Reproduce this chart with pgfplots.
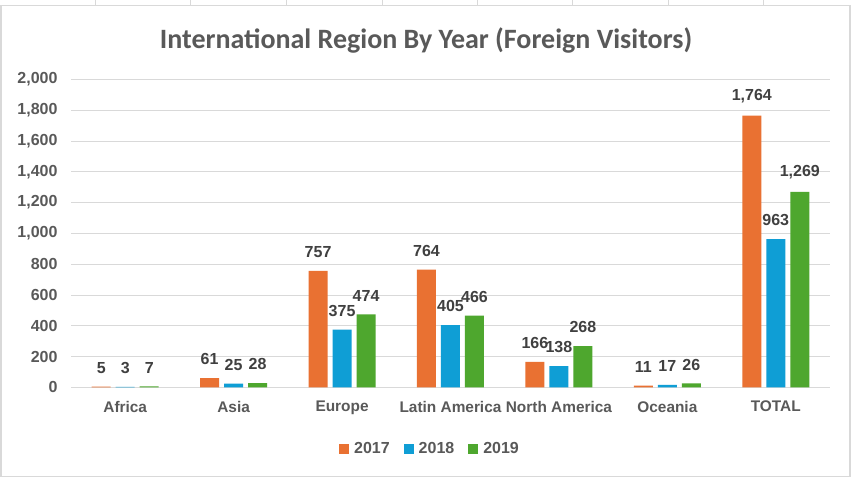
\documentclass[border=0pt]{standalone}
\usepackage{pgfplots}
\pgfplotsset{compat=1.18}
\usepackage{fontspec}
\setmainfont{Liberation Sans}
\newfontfamily\titlefont{Carlito}
\definecolor{c17}{HTML}{E97132}
\definecolor{c18}{HTML}{0F9ED5}
\definecolor{c19}{HTML}{4EA72E}
\definecolor{txt}{HTML}{595959}
\definecolor{lbl}{HTML}{404040}
\definecolor{gridc}{HTML}{D9D9D9}
\begin{document}
\begin{tikzpicture}[x=1pt,y=1pt]
\fill[white] (0,0) rectangle (852,477);
% spreadsheet cell lines above the chart
\foreach \xx in {95,190,286,382,477,572,668,763}
  \draw[gridc,line width=0.8pt] (\xx,472) -- (\xx,477);
\draw[gridc,line width=1.2pt] (1,1) rectangle (850,472);
\node[font=\titlefont\bfseries\fontsize{28}{28}\selectfont,text=txt] at (426,437) {International Region By Year (Foreign Visitors)};
\begin{axis}[
    at={(71pt,90pt)}, anchor=south west,
    scale only axis, width=759pt, height=308pt,
    ybar=5pt, bar width=19pt,
    xmin=-0.5, xmax=6.5, ymin=0, ymax=2000,
    xtick={0,...,6},
    xticklabels={Africa,Asia,Europe,Latin America,North America,Oceania,TOTAL},
    ytick={0,200,...,2000},
    major tick length=0pt,
    axis line style={draw=none},
    ymajorgrids, grid style={gridc,line width=1pt},
    /pgf/number format/assume math mode=true,
    /pgf/number format/1000 sep={,},
    yticklabel style={font=\bfseries\fontsize{16}{16}\selectfont,text=txt,xshift=-10pt},
    xticklabel style={font=\bfseries\fontsize{15.4}{15.4}\selectfont,text=txt,yshift=-10pt},
    nodes near coords,
    nodes near coords style={font=\bfseries\fontsize{16}{16}\selectfont,text=lbl,yshift=9.5pt},
    legend style={at={(0.473,-0.2)},anchor=center,draw=none,fill=none,
        legend columns=-1,font=\bfseries\fontsize{16}{16}\selectfont,text=txt,
        /tikz/every odd column/.append style={column sep=3pt},
        /tikz/every even column/.append style={column sep=12pt}},
    legend image code/.code={\fill[#1] (0pt,-5pt) rectangle (10pt,5pt);},
]
\addplot[fill=c17,draw=none] coordinates {(0,5) (1,61) (2,757) (3,764) (4,166) (5,11) (6,1764)};
\addplot[fill=c18,draw=none] coordinates {(0,3) (1,25) (2,375) (3,405) (4,138) (5,17) (6,963)};
\addplot[fill=c19,draw=none] coordinates {(0,7) (1,28) (2,474) (3,466) (4,268) (5,26) (6,1269)};
\legend{2017,2018,2019}
\end{axis}
\end{tikzpicture}
\end{document}
